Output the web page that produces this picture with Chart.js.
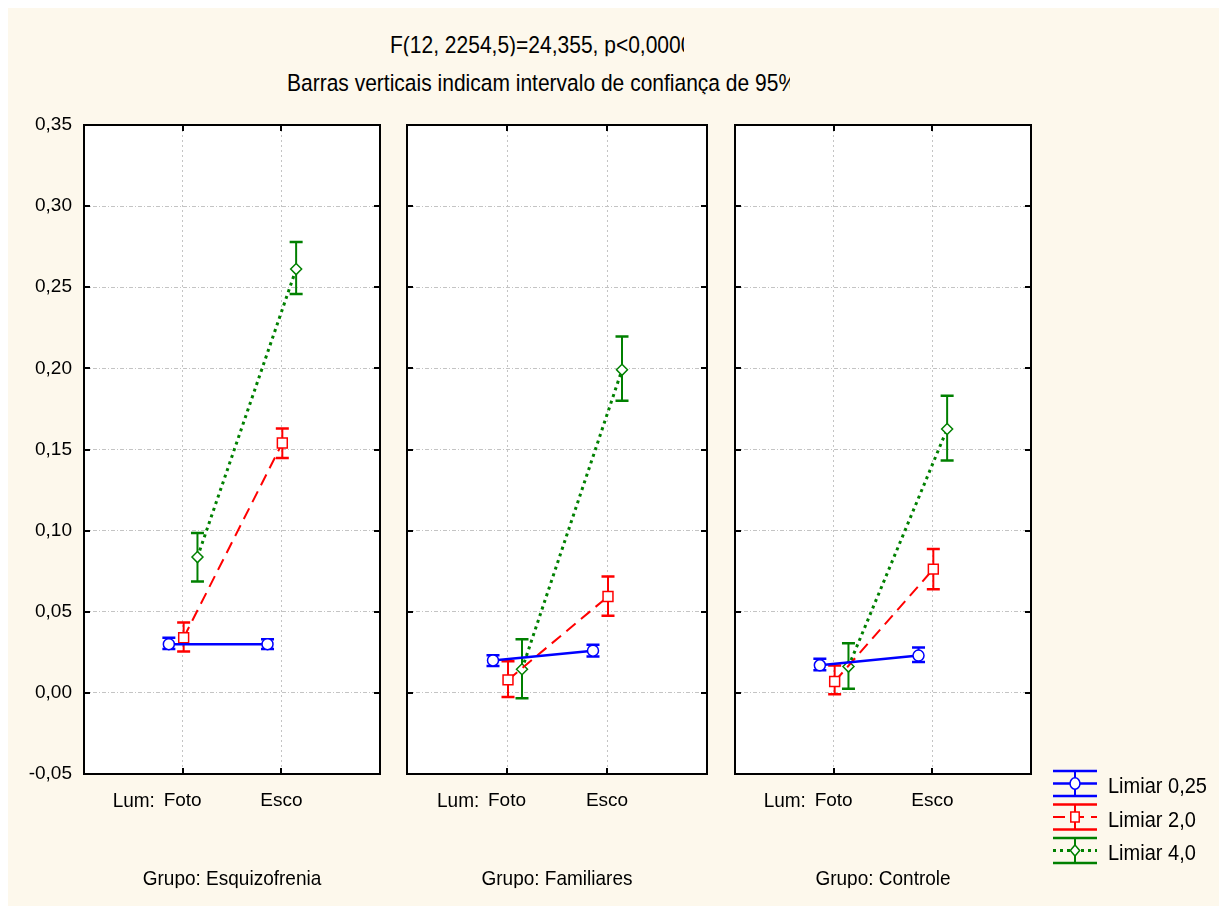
<!DOCTYPE html>
<html>
<head>
<meta charset="utf-8">
<script src="https://cdn.jsdelivr.net/npm/chart.js@4.4.1/dist/chart.umd.min.js"></script>
<style>
html,body{margin:0;padding:0;background:#fff;}
#page{position:relative;width:1219px;height:906px;overflow:hidden;background:#fff;font-family:"Liberation Sans",Arial,sans-serif;color:#000;}
#bg{position:absolute;left:8px;top:8px;right:0;bottom:0;background:#fdf8ec;}
canvas{position:absolute;top:0;}
.t{position:absolute;white-space:nowrap;overflow:hidden;transform:scaleY(1.1);transform-origin:50% 85%;}
</style>
</head>
<body>
<div id="page">
  <div id="bg"></div>
  <div class="t" style="left:390px;top:35px;width:294px;font-size:21px;line-height:21px;">F(12, 2254,5)=24,355, p&lt;0,0000</div>
  <div class="t" style="left:287px;top:73px;width:503px;font-size:21px;line-height:21px;">Barras verticais indicam intervalo de confiança de 95%</div>
</div>
<script>
// ---------------- data ----------------
const groups = ['Esquizofrenia', 'Familiares', 'Controle'];
const lumCategories = ['Foto', 'Esco'];
const seriesNames = ['Limiar 0,25', 'Limiar 2,0', 'Limiar 4,0'];
const yTickLabels = ['-0,05', '0,00', '0,05', '0,10', '0,15', '0,20', '0,25', '0,30', '0,35'];

// per group: [Foto, Esco]
const meanL025 = [[0.030, 0.030], [0.020, 0.026], [0.017, 0.023]];
const lowL025  = [[0.027, 0.027], [0.0166, 0.0224], [0.014, 0.019]];
const highL025 = [[0.034, 0.033], [0.0232, 0.0296], [0.021, 0.028]];

const meanL20 = [[0.034, 0.154], [0.008, 0.0594], [0.007, 0.0763]];
const lowL20  = [[0.0255, 0.1447], [-0.0025, 0.0475], [-0.0008, 0.0639]];
const highL20 = [[0.0433, 0.163], [0.0195, 0.0717], [0.0168, 0.0886]];

const meanL40 = [[0.0837, 0.2612], [0.0146, 0.1991], [0.0162, 0.1626]];
const lowL40  = [[0.0686, 0.2458], [-0.0033, 0.180], [0.0025, 0.1432]];
const highL40 = [[0.0985, 0.2779], [0.0331, 0.2197], [0.0306, 0.1831]];

// ---------------- styling / layout ----------------
const seriesDefs = [
  {name: seriesNames[0], mean: meanL025, low: lowL025, high: highL025, color: '#0000ff', dash: [], width: 2.5, style: 'circle', radius: 5.5, offset: -0.14},
  {name: seriesNames[1], mean: meanL20,  low: lowL20,  high: highL20,  color: '#ff0000', dash: [12, 7], width: 2, style: 'rect', radius: 7, offset: 0.01},
  {name: seriesNames[2], mean: meanL40,  low: lowL40,  high: highL40,  color: '#008000', dash: [3, 4], width: 3, style: 'rectRot', radius: 5.5, offset: 0.15}
];
const panelBoxes = [[84, 380], [407, 707], [735, 1031]];
const PLOT_TOP = 125, PLOT_BOTTOM = 774, AXIS_W = 84, XAXIS_H = 60, PAGE_W = 1219, PAGE_H = 906;
const FONT = '"Liberation Sans", Arial, sans-serif';

Chart.defaults.font.family = FONT;
Chart.defaults.color = '#000';

const whitePlot = {
  id: 'whitePlot',
  beforeDraw(chart) {
    const a = chart.chartArea, ctx = chart.ctx;
    ctx.save(); ctx.fillStyle = '#ffffff';
    ctx.fillRect(a.left, a.top, a.right - a.left, a.bottom - a.top);
    ctx.restore();
  }
};

const errorBars = {
  id: 'errorBars',
  beforeDatasetsDraw(chart) {
    const ctx = chart.ctx, y = chart.scales.y;
    chart.data.datasets.forEach((ds, di) => {
      const meta = chart.getDatasetMeta(di);
      meta.data.forEach((pt, i) => {
        const lo = y.getPixelForValue(ds.errLow[i]);
        const hi = y.getPixelForValue(ds.errHigh[i]);
        ctx.save();
        ctx.strokeStyle = ds.borderColor; ctx.setLineDash([]);
        ctx.lineWidth = 2;
        ctx.beginPath(); ctx.moveTo(pt.x, lo); ctx.lineTo(pt.x, hi); ctx.stroke();
        ctx.lineWidth = 2.5;
        ctx.beginPath();
        ctx.moveTo(pt.x - 6.5, lo); ctx.lineTo(pt.x + 6.5, lo);
        ctx.moveTo(pt.x - 6.5, hi); ctx.lineTo(pt.x + 6.5, hi);
        ctx.stroke();
        ctx.restore();
      });
    });
  }
};

const frame = {
  id: 'frame',
  afterDraw(chart) {
    const a = chart.chartArea, ctx = chart.ctx;
    const xs = chart.scales.x, ys = chart.scales.y;
    ctx.save();
    ctx.strokeStyle = '#000'; ctx.lineWidth = 2; ctx.setLineDash([]);
    ctx.beginPath();
    ys.ticks.forEach(t => {
      const py = Math.round(ys.getPixelForValue(t.value));
      ctx.moveTo(a.left, py); ctx.lineTo(a.left + 6, py);
      ctx.moveTo(a.right, py); ctx.lineTo(a.right - 6, py);
    });
    xs.ticks.forEach(t => {
      const px = Math.round(xs.getPixelForValue(t.value));
      ctx.moveTo(px, a.top); ctx.lineTo(px, a.top + 6);
      ctx.moveTo(px, a.bottom); ctx.lineTo(px, a.bottom - 6);
    });
    ctx.stroke();
    ctx.lineWidth = 2;
    ctx.strokeRect(a.left, a.top, a.right - a.left, a.bottom - a.top);
    ctx.restore();
  }
};

function drawMarker(ctx, style, r, x, y) {
  ctx.beginPath();
  if (style === 'circle') {
    ctx.ellipse(x, y, r * 0.9, r * 1.05, 0, 0, Math.PI * 2);
  } else if (style === 'rect') {
    const s = r * Math.SQRT1_2;
    ctx.rect(x - s * 0.85, y - s, s * 1.7, s * 2);
  } else {
    ctx.moveTo(x, y - r); ctx.lineTo(x + r * 0.85, y); ctx.lineTo(x, y + r); ctx.lineTo(x - r * 0.85, y); ctx.closePath();
  }
  ctx.fill(); ctx.stroke();
}

const legendSymbols = {
  id: 'legendSymbols',
  afterDraw(chart) {
    const ctx = chart.ctx;
    const cx = chart.chartArea.right + 44, x0 = cx - 22, x1 = cx + 22;
    seriesDefs.forEach((s, k) => {
      const cy = 783.5 + k * 33.5;
      ctx.save();
      ctx.strokeStyle = s.color; ctx.setLineDash([]);
      ctx.lineWidth = 2.5;
      ctx.beginPath();
      ctx.moveTo(x0, cy - 12.5); ctx.lineTo(x1, cy - 12.5);
      ctx.moveTo(x0, cy + 12.5); ctx.lineTo(x1, cy + 12.5);
      ctx.stroke();
      ctx.lineWidth = 2;
      ctx.beginPath(); ctx.moveTo(cx, cy - 12.5); ctx.lineTo(cx, cy + 12.5); ctx.stroke();
      ctx.setLineDash(s.dash); ctx.lineWidth = s.width;
      ctx.beginPath(); ctx.moveTo(x0, cy); ctx.lineTo(x1, cy); ctx.stroke();
      ctx.setLineDash([]); ctx.lineWidth = 1.5; ctx.fillStyle = '#fff';
      drawMarker(ctx, s.style, s.radius, cx, cy);
      ctx.restore();
    });
  }
};

const page = document.getElementById('page');

groups.forEach((g, gi) => {
  const [pl, pr] = panelBoxes[gi];
  const left = pl - AXIS_W;
  const right = gi === groups.length - 1 ? PAGE_W : pr + 10;
  const width = right - left;
  const cv = document.createElement('canvas');
  cv.width = width; cv.height = PAGE_H;
  cv.style.left = left + 'px';
  cv.style.width = width + 'px'; cv.style.height = PAGE_H + 'px';
  page.appendChild(cv);

  const datasets = seriesDefs.map(s => ({
    label: s.name,
    data: lumCategories.map((c, i) => ({x: i + 1 + s.offset, y: s.mean[gi][i]})),
    errLow: s.low[gi],
    errHigh: s.high[gi],
    borderColor: s.color,
    borderDash: s.dash,
    borderWidth: s.width,
    pointStyle: s.style,
    pointRadius: s.radius,
    pointBackgroundColor: '#ffffff',
    pointBorderColor: s.color,
    pointBorderWidth: 1.5,
    fill: false,
    tension: 0
  }));

  const plugins = [whitePlot, errorBars, frame];
  if (gi === groups.length - 1) plugins.push(legendSymbols);

  new Chart(cv, {
    type: 'line',
    data: {datasets},
    plugins,
    options: {
      responsive: false,
      animation: false,
      devicePixelRatio: 1,
      layout: {padding: {left: 0, top: PLOT_TOP, right: width - (pr - left), bottom: PAGE_H - PLOT_BOTTOM - XAXIS_H}},
      plugins: {legend: {display: false}, tooltip: {enabled: false}, title: {display: false}},
      scales: {
        x: {
          type: 'linear', min: 0, max: 3,
          afterBuildTicks: s => { s.ticks = lumCategories.map((c, i) => ({value: i + 1})); },
          afterFit: s => { s.height = XAXIS_H; },
          ticks: {
            font: {size: 19}, color: '#000', padding: 15, maxRotation: 0,
            callback: v => lumCategories[Math.round(v) - 1]
          },
          grid: {color: '#c4c4c4', lineWidth: 1, drawTicks: false},
          border: {display: false, dash: [2, 3]}
        },
        y: {
          type: 'linear', min: -0.05, max: 0.35,
          afterFit: s => { s.width = AXIS_W; },
          ticks: {
            display: gi === 0, stepSize: 0.05, font: {size: 19}, color: '#000', padding: 12,
            callback: (v, i) => yTickLabels[i]
          },
          grid: {color: '#c4c4c4', lineWidth: 1, drawTicks: false},
          border: {display: false, dash: [4, 2, 1, 2]}
        }
      }
    }
  });

  // "Lum:" label left of first category
  const lum = document.createElement('div');
  lum.className = 't';
  lum.style.cssText = 'left:' + (pl + (pr - pl) / 3 - 70) + 'px;top:791px;font-size:19px;line-height:19px;';
  lum.textContent = 'Lum:';
  page.appendChild(lum);

  // group label
  const gl = document.createElement('div');
  gl.className = 't';
  gl.style.cssText = 'left:' + pl + 'px;width:' + (pr - pl) + 'px;text-align:center;top:869px;font-size:19px;line-height:19px;';
  gl.textContent = 'Grupo: ' + g;
  page.appendChild(gl);
});

// legend labels
seriesNames.forEach((n, k) => {
  const d = document.createElement('div');
  d.className = 't';
  d.style.cssText = 'left:1108px;top:' + (776 + k * 33.5) + 'px;font-size:20px;line-height:20px;';
  d.textContent = n;
  page.appendChild(d);
});
</script>
</body>
</html>
